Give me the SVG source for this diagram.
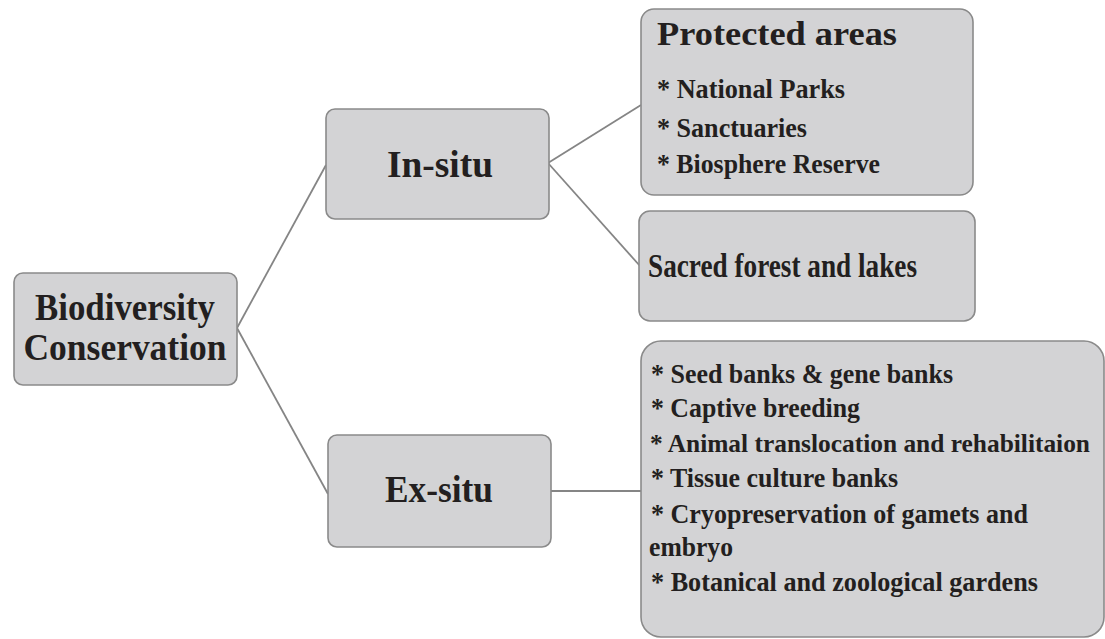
<svg xmlns="http://www.w3.org/2000/svg" width="1105" height="639" viewBox="0 0 1105 639">
  <style>
    .box { fill: #d3d3d5; stroke: #8a8a8a; stroke-width: 1.6; }
    .link { stroke: #858585; stroke-width: 1.8; fill: none; }
    text { font-family: "Liberation Serif", "Times New Roman", serif; font-weight: bold; fill: #231f20; }
    .big { font-size: 38px; }
    .head { font-size: 33px; }
    .item { font-size: 27px; }
    .sub { font-size: 28px; }
    .long { font-size: 25px; }
  </style>
  <rect width="1105" height="639" fill="#ffffff"/>

  <!-- connectors -->
  <g id="connectors">
    <line class="link" x1="237" y1="328" x2="326" y2="165"/>
    <line class="link" x1="237" y1="328" x2="328" y2="494"/>
    <line class="link" x1="548" y1="163" x2="641" y2="105"/>
    <line class="link" x1="548" y1="163" x2="640" y2="266"/>
    <line class="link" x1="551" y1="491" x2="641" y2="491"/>
  </g>

  <!-- root -->
  <g id="biodiversity">
    <rect class="box" x="14" y="273" width="223" height="112" rx="9"/>
    <text class="big" x="125" y="320" text-anchor="middle" textLength="180" lengthAdjust="spacingAndGlyphs">Biodiversity</text>
    <text class="big" x="125" y="360" text-anchor="middle" textLength="203" lengthAdjust="spacingAndGlyphs">Conservation</text>
  </g>

  <!-- branches -->
  <g id="in-situ">
    <rect class="box" x="326" y="109" width="223" height="110" rx="9"/>
    <text class="big" x="440" y="177" text-anchor="middle" textLength="106" lengthAdjust="spacingAndGlyphs">In-situ</text>
  </g>

  <g id="ex-situ">
    <rect class="box" x="328" y="435" width="223" height="112" rx="9"/>
    <text class="big" x="439" y="502" text-anchor="middle" textLength="108" lengthAdjust="spacingAndGlyphs">Ex-situ</text>
  </g>

  <!-- leaves -->
  <g id="protected-areas">
    <rect class="box" x="641" y="9" width="332" height="186" rx="13"/>
    <text class="head" x="657" y="45" textLength="240" lengthAdjust="spacingAndGlyphs">Protected areas</text>
    <text class="item" x="657" y="98" textLength="188" lengthAdjust="spacingAndGlyphs">* National Parks</text>
    <text class="item" x="657" y="137" textLength="150" lengthAdjust="spacingAndGlyphs">* Sanctuaries</text>
    <text class="item" x="657" y="173" textLength="223" lengthAdjust="spacingAndGlyphs">* Biosphere Reserve</text>
  </g>

  <g id="sacred-forest">
    <rect class="box" x="639" y="211" width="336" height="110" rx="11"/>
    <text class="head" x="648" y="277" textLength="269" lengthAdjust="spacingAndGlyphs">Sacred forest and lakes</text>
  </g>

  <g id="ex-situ-methods">
    <rect class="box" x="641" y="341" width="463" height="296" rx="20"/>
    <text class="sub" x="651" y="383" textLength="302" lengthAdjust="spacingAndGlyphs">* Seed banks &amp; gene banks</text>
    <text class="sub" x="651" y="417" textLength="209" lengthAdjust="spacingAndGlyphs">* Captive breeding</text>
    <text class="long" x="650" y="452" textLength="440" lengthAdjust="spacingAndGlyphs">* Animal translocation and rehabilitaion</text>
    <text class="sub" x="651" y="487" textLength="247" lengthAdjust="spacingAndGlyphs">* Tissue culture banks</text>
    <text class="sub" x="651" y="523" textLength="377" lengthAdjust="spacingAndGlyphs">* Cryopreservation of gamets and</text>
    <text class="sub" x="649" y="556" textLength="84" lengthAdjust="spacingAndGlyphs">embryo</text>
    <text class="sub" x="651" y="591" textLength="387" lengthAdjust="spacingAndGlyphs">* Botanical and zoological gardens</text>
  </g>
</svg>
